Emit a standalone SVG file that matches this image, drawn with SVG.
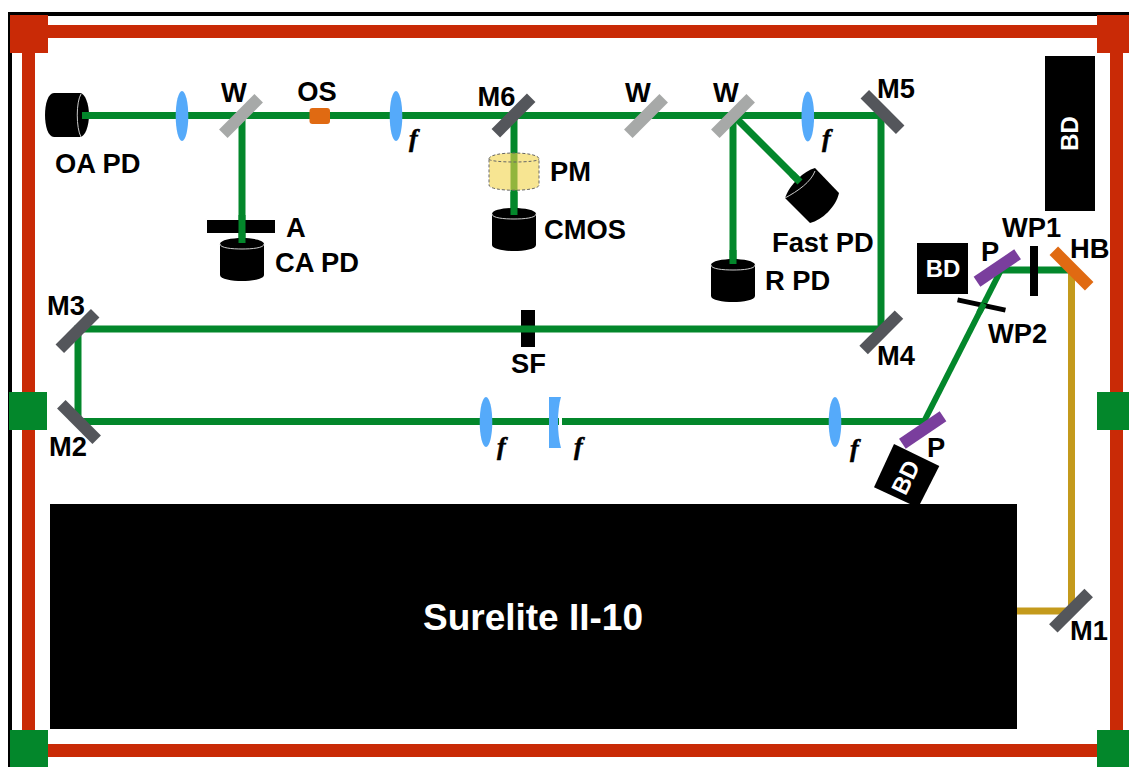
<svg xmlns="http://www.w3.org/2000/svg" width="1129" height="767" viewBox="0 0 1129 767">
<style>
.t{font-family:"Liberation Sans",Arial,sans-serif;font-weight:700;font-size:27.300px;fill:#000}
.w{fill:#fff;font-size:24px}
.f{font-family:"Liberation Serif","Times New Roman",serif;font-style:italic;font-weight:700;font-size:26px;fill:#000;stroke:#000;stroke-width:.5}
.red{fill:#c92a06}
.grn{fill:#03872b}
.beam{stroke:#03872b;stroke-width:7;fill:none}
.gold{stroke:#c49a1c;stroke-width:7;fill:none}
.dm{fill:#54565b}
.gm{fill:#a7a9a8}
.lens{fill:#55aafa}
.blk{fill:#000}
.pol{fill:#7a3e9d}
</style>
<defs>
<g id="pd"><path d="M-22 6V37C-22 41-10 43 0 43S22 41 22 37V6C22 2 10 0 0 0S-22 2-22 6Z" fill="#000"/><path d="M-22 6C-22 10-10 11 0 11S22 10 22 6" fill="none" stroke="#ccc" stroke-width="1"/></g>
<rect id="mir" x="-25" y="-6" width="50" height="12"/>
<rect id="pl" x="-24.500" y="-6" width="49" height="12"/>
</defs>
<rect width="1129" height="767" fill="#fff"/>
<g id="frame">
<rect x="8" y="12" width="1121" height="4" class="blk"/>
<rect x="8" y="12" width="4" height="755" class="blk"/>
<rect x="10" y="25" width="1119" height="13" class="red"/>
<rect x="22" y="15" width="13" height="752" class="red"/>
<rect x="1110" y="15" width="13" height="752" class="red"/>
<rect x="10" y="744" width="1119" height="13" class="red"/>
<rect x="10" y="15" width="38" height="38" class="red"/>
<rect x="1097" y="15" width="32" height="38" class="red"/>
<rect x="9" y="392" width="38" height="38" class="grn"/>
<rect x="1097" y="392" width="32" height="38" class="grn"/>
<rect x="10" y="730" width="38" height="37" class="grn"/>
<rect x="1097" y="730" width="32" height="37" class="grn"/>
</g>
<g id="connectors">
<path class="beam" d="M82 115.500H881V329H78V421.500H925"/>
<path class="beam" style="stroke-width:6" d="M924 421.500L1001 270"/>
<path class="beam" d="M1000 270H1072"/>
<path class="beam" d="M242 115V243"/>
<path class="beam" d="M514 115V215"/>
<path class="beam" d="M733 115V265"/>
<path class="beam" d="M733 115L801 183"/>
<path class="gold" d="M1071.500 270V611H1017"/>
</g>
<g id="laser"><rect x="50" y="504" width="967" height="225" class="blk"/><text x="533" y="630" text-anchor="middle" class="t" style="font-size:37px;fill:#fff">Surelite II-10</text></g>
<g id="oa-pd"><path d="M54 93H80C85 93 89 104 89 115S85 137 80 137H54C48 137 45 126 45 115S48 93 54 93Z" class="blk"/><path d="M81 94C76 102 76 128 81 137" fill="none" stroke="#ccc"/><rect x="82" y="112" width="7" height="7" class="grn"/><text x="55" y="173" class="t">OA PD</text></g>
<g id="lens1"><ellipse cx="182" cy="116" rx="6.300" ry="25" class="lens"/></g>
<g id="w1"><use href="#mir" class="gm" transform="translate(241 116) rotate(-45)"/><text x="234" y="102" text-anchor="middle" class="t">W</text></g>
<g id="os"><rect x="309.500" y="108" width="20.500" height="16" rx="3" fill="#e06a12"/><text x="317" y="101" text-anchor="middle" class="t">OS</text></g>
<g id="a"><rect x="207" y="220" width="68" height="13" class="blk"/><text x="286" y="236.500" class="t">A</text></g>
<g id="ca-pd"><use href="#pd" transform="translate(242 238)"/><path class="beam" d="M242 215V243"/><text x="275" y="271.500" class="t">CA PD</text></g>
<g id="lens2"><ellipse cx="396" cy="116" rx="6.300" ry="25" class="lens"/><text x="409" y="147" class="f">f</text></g>
<g id="m6"><use href="#mir" class="dm" transform="translate(513.500 115.500) rotate(-45)"/><text x="496.500" y="105.500" text-anchor="middle" class="t">M6</text></g>
<g id="pm"><path d="M489 159C489 151 539 151 539 159V185C539 192 489 192 489 185Z" fill="#f2d44a" fill-opacity=".6" stroke="#666" stroke-dasharray="3 2"/><path d="M489 159C489 163 539 163 539 159" fill="none" stroke="#666" stroke-dasharray="3 2"/><text x="550" y="181" class="t">PM</text></g>
<g id="cmos"><use href="#pd" transform="translate(514 208)"/><path class="beam" d="M514 192V215"/><text x="544" y="239" class="t">CMOS</text></g>
<g id="w2"><use href="#mir" class="gm" transform="translate(646 116) rotate(-45)"/><text x="638" y="102" text-anchor="middle" class="t">W</text></g>
<g id="w3"><use href="#mir" class="gm" transform="translate(733 116) rotate(-45)"/><text x="726" y="102" text-anchor="middle" class="t">W</text></g>
<g id="lens3"><ellipse cx="807.800" cy="116.500" rx="6.300" ry="25" class="lens"/><text x="822" y="147" class="f">f</text></g>
<g id="m5"><use href="#mir" class="dm" transform="translate(882.500 112) rotate(45)"/><text x="877" y="98" class="t">M5</text></g>
<g id="fast-pd"><path d="M785 198C790 184 804 171 815 168L839 193C836 207 822 220 810 223Z" class="blk"/><path d="M785 198C798 191 811 182 815 171" fill="none" stroke="#ccc"/><path class="beam" d="M792 174L800 182"/><text x="772" y="252" class="t">Fast PD</text></g>
<g id="r-pd"><use href="#pd" transform="translate(733 259)"/><path class="beam" d="M733 250V264"/><text x="765" y="290" class="t">R PD</text></g>
<g id="bd1"><rect x="1045" y="56" width="50" height="155" class="blk"/><text transform="translate(1078 133.500) rotate(-90)" text-anchor="middle" class="t w">BD</text></g>
<g id="bd2"><rect x="917" y="243" width="51" height="51" class="blk"/><text x="943" y="277" text-anchor="middle" class="t w">BD</text></g>
<g id="p1"><use href="#pl" class="pol" transform="translate(997.300 268) rotate(-34)"/><text x="981" y="261" class="t">P</text></g>
<g id="wp1"><rect x="1030" y="246" width="8" height="50" class="blk"/><text x="1002" y="237" class="t">WP1</text></g>
<g id="hb"><use href="#mir" fill="#e06a12" transform="translate(1071.500 268.500) rotate(45)"/><text x="1070" y="258" class="t">HB</text></g>
<g id="wp2"><rect x="957" y="302.500" width="49" height="5" class="blk" transform="rotate(12 981.500 305)"/><path class="beam" style="stroke-width:6" d="M984 303.500L979 313"/><text x="988" y="343" class="t">WP2</text></g>
<g id="m4"><use href="#mir" class="dm" transform="translate(881.300 332.300) rotate(-45)"/><text x="877" y="365" class="t">M4</text></g>
<g id="sf"><rect x="521" y="310" width="14" height="37" class="blk"/><path class="beam" d="M521 329H535"/><text x="528.500" y="373" text-anchor="middle" class="t">SF</text></g>
<g id="m3"><use href="#mir" class="dm" transform="translate(77.500 331) rotate(-45)"/><text x="47" y="315" class="t">M3</text></g>
<g id="m2"><use href="#mir" class="dm" transform="translate(79 422) rotate(45)"/><text x="49" y="456" class="t">M2</text></g>
<g id="lens4"><ellipse cx="486" cy="422" rx="6.300" ry="25" class="lens"/><text x="497" y="455" class="f">f</text></g>
<g id="lens5"><path d="M549 397H561C557 410 557 434 561 448H549Z" class="lens"/><rect x="559" y="417" width="3" height="9" fill="#fff"/><text x="574" y="455" class="f">f</text></g>
<g id="lens6"><ellipse cx="835" cy="422" rx="6.300" ry="25" class="lens"/><text x="850" y="457" class="f">f</text></g>
<g id="p2"><use href="#pl" class="pol" transform="translate(922.700 430) rotate(-34)"/><text x="927" y="457" class="t">P</text></g>
<g id="bd3"><path d="M894 444L939.300 466L920 504H910L874 487.300Z" class="blk"/><text transform="translate(913 481) rotate(-64)" text-anchor="middle" class="t w">BD</text></g>
<g id="m1"><use href="#mir" class="dm" transform="translate(1071 610.700) rotate(-45)"/><text x="1070" y="640" class="t">M1</text></g>
</svg>
